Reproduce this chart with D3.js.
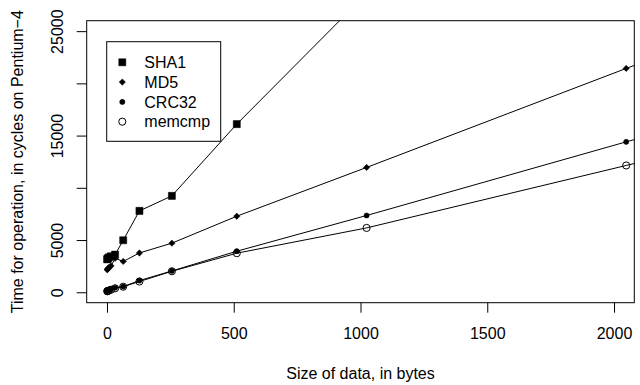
<!DOCTYPE html>
<html>
<head>
<meta charset="utf-8">
<script src="https://cdn.jsdelivr.net/npm/d3@7"></script>
<style>
  body { margin: 0; background: #fff; }
  svg text { font-family: "Liberation Sans", Arial, Helvetica, sans-serif; font-size: 16px; fill: #000; }
</style>
</head>
<body>
<svg width="640" height="385"></svg>
<script>
(function (d3) {
  'use strict';

  // data (bytes -> cycles)
  const sizes = [1, 2, 4, 8, 16, 32, 64, 128, 256, 512, 1024, 2048, 4096];
  const sha1 = [3150, 3200, 3250, 3350, 3450, 3600, 4980, 7790, 9230, 16100, 28600];
  const md5 = [2150, 2200, 2270, 2380, 2520, 3250, 2950, 3760, 4700, 7280, 11950, 21430, 40000];
  const crc32 = [150, 170, 200, 250, 330, 430, 540, 1120, 2040, 3930, 7350, 14400, 28000];
  const memcmp = [100, 110, 130, 170, 240, 380, 530, 1030, 2010, 3740, 6160, 12140, 24000];
  const seriesNames = ['SHA1', 'MD5', 'CRC32', 'memcmp'];
  const xTicks = [0, 500, 1000, 1500, 2000];
  const yTicks = [0, 5000, 10000, 15000, 20000, 25000];
  const yTickLabels = ['0', '5000', '', '15000', '', '25000'];

  const svg = d3.select('svg');
  const width = +svg.attr('width');
  const height = +svg.attr('height');

  const box = {left: 86.7, top: 20.7, right: 634.3, bottom: 302.7};

  const xScale = d3.scaleLinear().domain([-80, 2080]).range([box.left, box.right]);
  const yScale = d3.scaleLinear().domain([-1000, 26000]).range([box.bottom, box.top]);

  const diamond = {
    draw(context, size) {
      const r = Math.sqrt(size / 2);
      context.moveTo(0, -r);
      context.lineTo(r, 0);
      context.lineTo(0, r);
      context.lineTo(-r, 0);
      context.closePath();
    }
  };

  const series = [
    {name: 'SHA1', values: sha1, type: d3.symbolSquare, size: 50, fill: '#000'},
    {name: 'MD5', values: md5, type: diamond, size: 20, fill: '#000'},
    {name: 'CRC32', values: crc32, type: d3.symbolCircle, size: 21, fill: '#000'},
    {name: 'memcmp', values: memcmp, type: d3.symbolCircle, size: 40, fill: 'none'}
  ];

  svg.append('defs').append('clipPath').attr('id', 'plotclip')
    .append('rect')
      .attr('x', box.left).attr('y', box.top)
      .attr('width', box.right - box.left).attr('height', box.bottom - box.top);

  const plot = svg.append('g').attr('clip-path', 'url(#plotclip)');

  const line = d3.line()
    .x(d => xScale(d.x))
    .y(d => yScale(d.y));

  series.forEach(s => {
    const pts = s.values.map((v, i) => ({x: sizes[i], y: v}));
    plot.append('path')
      .datum(pts)
      .attr('d', line)
      .attr('fill', 'none')
      .attr('stroke', '#000')
      .attr('stroke-width', 1);
    plot.selectAll(null).data(pts)
      .enter().append('path')
        .attr('transform', d => `translate(${xScale(d.x)},${yScale(d.y)})`)
        .attr('d', d3.symbol().type(s.type).size(s.size))
        .attr('fill', s.fill)
        .attr('stroke', '#000')
        .attr('stroke-width', s.fill === 'none' ? 1 : 0.5);
  });

  // box
  svg.append('rect')
    .attr('x', box.left).attr('y', box.top)
    .attr('width', box.right - box.left).attr('height', box.bottom - box.top)
    .attr('fill', 'none').attr('stroke', '#000').attr('stroke-width', 1);

  // x axis
  const xAxisG = svg.append('g')
    .attr('transform', `translate(0,${box.bottom})`)
    .call(d3.axisBottom(xScale).tickValues(xTicks).tickSize(10).tickSizeOuter(0).tickPadding(14)
      .tickFormat(d3.format('d')));
  xAxisG.select('.domain').remove();
  xAxisG.selectAll('text').attr('font-size', null).attr('font-family', null);
  xAxisG.selectAll('.tick text').attr('dy', null).attr('y', 36);

  // y axis, labels turned like R does
  const yAxisG = svg.append('g')
    .attr('transform', `translate(${box.left},0)`)
    .call(d3.axisLeft(yScale).tickValues(yTicks).tickSize(10).tickSizeOuter(0)
      .tickFormat((d, i) => yTickLabels[i]));
  yAxisG.select('.domain').remove();
  yAxisG.selectAll('.tick text')
    .attr('font-size', null).attr('font-family', null)
    .attr('x', 0).attr('y', -23.4).attr('dy', null)
    .attr('transform', 'rotate(-90)')
    .attr('text-anchor', 'middle');
  svg.selectAll('.tick line').attr('stroke', '#000');

  // axis titles
  svg.append('text')
    .attr('x', (box.left + box.right) / 2)
    .attr('y', 379)
    .attr('text-anchor', 'middle')
    .text('Size of data, in bytes');

  svg.append('text')
    .attr('transform', `translate(23.3,${(box.top + box.bottom) / 2}) rotate(-90)`)
    .attr('text-anchor', 'middle')
    .text('Time for operation, in cycles on Pentium\u22124');

  // legend
  const legend = svg.append('g');
  legend.append('rect')
    .attr('x', 106.7).attr('y', 41.7)
    .attr('width', 114).attr('height', 99.6)
    .attr('fill', '#fff').attr('stroke', '#000').attr('stroke-width', 1);
  const legendY = d3.scalePoint().domain(seriesNames).range([62.3, 121.7]);
  series.forEach(s => {
    legend.append('path')
      .attr('transform', `translate(122.3,${legendY(s.name)})`)
      .attr('d', d3.symbol().type(s.type).size(s.size))
      .attr('fill', s.fill)
      .attr('stroke', '#000')
      .attr('stroke-width', s.fill === 'none' ? 1 : 0.5);
    legend.append('text')
      .attr('x', 144.3)
      .attr('y', legendY(s.name))
      .attr('dy', '0.35em')
      .text(s.name);
  });
}(d3));
</script>
</body>
</html>
